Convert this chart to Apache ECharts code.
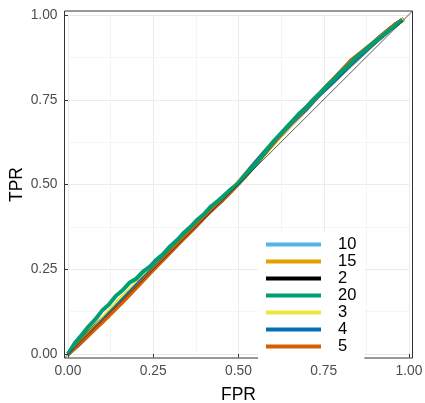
<!DOCTYPE html>
<html>
<head>
<meta charset="utf-8">
<script src="https://cdn.jsdelivr.net/npm/echarts@6/dist/echarts.min.js"></script>
<style>html,body{margin:0;padding:0;background:#fff}#c{width:425px;height:403px}</style>
</head>
<body>
<div id="c"></div>
<script>
// ---- data ----
const legendNames = ['10', '15', '2', '20', '3', '4', '5'];
const axisTicks = [0, 0.25, 0.5, 0.75, 1];
const tickLabels = ['0.00', '0.25', '0.50', '0.75', '1.00'];

const fpr10 = [0,0.04,0.08,0.12,0.16,0.2,0.24,0.28,0.32,0.36,0.4,0.44,0.48,0.52,0.56,0.6,0.64,0.68,0.72,0.76,0.8,0.84,0.88,0.92,0.96,0.985];
const tpr10 = [0,0.042,0.083,0.121,0.166,0.204,0.246,0.284,0.327,0.364,0.408,0.446,0.485,0.53,0.575,0.622,0.664,0.707,0.748,0.789,0.83,0.866,0.905,0.94,0.972,0.988];

const fpr15 = [0,0.03,0.07,0.11,0.15,0.19,0.23,0.27,0.31,0.35,0.39,0.43,0.47,0.51,0.55,0.59,0.63,0.67,0.71,0.75,0.79,0.83,0.87,0.91,0.95,0.98];
const tpr15 = [0,0.031,0.074,0.113,0.158,0.196,0.238,0.277,0.318,0.357,0.398,0.437,0.476,0.518,0.566,0.612,0.653,0.698,0.738,0.777,0.815,0.853,0.893,0.93,0.965,0.985];

const fpr2 = [0,0.05,0.09,0.13,0.17,0.21,0.25,0.29,0.33,0.37,0.41,0.45,0.49,0.53,0.57,0.61,0.65,0.69,0.73,0.77,0.81,0.85,0.89,0.93,0.96,0.985];
const tpr2 = [0,0.051,0.09,0.132,0.171,0.211,0.252,0.292,0.333,0.372,0.414,0.452,0.494,0.537,0.585,0.63,0.672,0.713,0.757,0.796,0.835,0.872,0.91,0.945,0.972,0.988];

const fpr20 = [0,0.02,0.04,0.06,0.08,0.1,0.12,0.14,0.16,0.18,0.2,0.22,0.24,0.26,0.28,0.3,0.32,0.34,0.36,0.38,0.4,0.42,0.44,0.46,0.48,0.5,0.52,0.54,0.56,0.58,0.6,0.62,0.64,0.66,0.68,0.7,0.72,0.74,0.76,0.78,0.8,0.82,0.84,0.86,0.88,0.9,0.92,0.94,0.96,0.98];
const tpr20 = [0,0.032,0.056,0.081,0.102,0.128,0.146,0.171,0.188,0.21,0.222,0.243,0.258,0.279,0.296,0.318,0.336,0.358,0.376,0.397,0.414,0.436,0.452,0.47,0.488,0.503,0.527,0.549,0.572,0.598,0.624,0.646,0.668,0.689,0.711,0.729,0.751,0.77,0.792,0.81,0.832,0.849,0.871,0.888,0.904,0.921,0.937,0.953,0.968,0.985];

const fpr3 = [0,0.04,0.08,0.12,0.16,0.2,0.24,0.28,0.32,0.36,0.4,0.44,0.48,0.52,0.56,0.6,0.64,0.68,0.72,0.76,0.8,0.84,0.88,0.92,0.96,0.985];
const tpr3 = [0,0.038,0.079,0.126,0.169,0.208,0.247,0.29,0.33,0.371,0.41,0.448,0.487,0.527,0.57,0.617,0.662,0.703,0.746,0.787,0.825,0.863,0.902,0.938,0.97,0.988];

const fpr4 = [0,0.03,0.06,0.1,0.14,0.18,0.22,0.26,0.3,0.34,0.38,0.42,0.46,0.5,0.54,0.58,0.62,0.66,0.7,0.74,0.78,0.82,0.86,0.9,0.94,0.98];
const tpr4 = [0,0.026,0.056,0.098,0.139,0.181,0.222,0.262,0.303,0.344,0.385,0.424,0.465,0.504,0.553,0.6,0.643,0.686,0.725,0.767,0.805,0.845,0.883,0.92,0.956,0.985];

const fpr5 = [0,0.04,0.08,0.12,0.16,0.2,0.24,0.28,0.32,0.36,0.4,0.44,0.48,0.52,0.56,0.6,0.64,0.68,0.72,0.76,0.8,0.83,0.86,0.89,0.92,0.95,0.98];
const tpr5 = [0,0.036,0.074,0.113,0.153,0.195,0.238,0.279,0.321,0.362,0.404,0.443,0.481,0.524,0.571,0.619,0.666,0.708,0.75,0.792,0.834,0.866,0.89,0.914,0.94,0.964,0.986];

const colors = {'10':'#56B4E9','15':'#E69F00','2':'#000000','20':'#009E73','3':'#F0E442','4':'#0072B2','5':'#D55E00'};
const curves = {'10':[fpr10,tpr10],'15':[fpr15,tpr15],'2':[fpr2,tpr2],'20':[fpr20,tpr20],'3':[fpr3,tpr3],'4':[fpr4,tpr4],'5':[fpr5,tpr5]};
const drawOrder = ['10','15','2','3','4','5','20'];

// ---- layout ----
const FONT = 'Liberation Sans, Arial, sans-serif';
const inner = {left: 68, top: 15, width: 341, height: 339};
const padX = 3.5, padY = 4;
const outer = {left: inner.left - padX, top: inner.top - padY, width: inner.width + 2*padX, height: inner.height + 2*padY};
const xMin = -padX / inner.width, xMax = 1 + padX / inner.width;
const yMin = -padY / inner.height, yMax = 1 + padY / inner.height;

const pairs = (xs, ys) => xs.map((x, i) => [x, ys[i]]);

const series = drawOrder.map(name => ({
  name: name, type: 'line', xAxisIndex: 1, yAxisIndex: 1,
  data: pairs(curves[name][0], curves[name][1]),
  showSymbol: false, symbol: 'none',
  lineStyle: {color: colors[name], width: 4},
  itemStyle: {color: colors[name]},
  z: 3, animation: false
}));
series.push({
  name: 'diag', type: 'line', xAxisIndex: 1, yAxisIndex: 1,
  data: [[xMin, yMin], [xMax, yMax]], showSymbol: false, symbol: 'none',
  lineStyle: {color: '#333333', width: 0.8}, z: 4, animation: false, silent: true
});

const labelFmt = v => {
  const i = axisTicks.findIndex(t => Math.abs(t - v) < 1e-9);
  return i >= 0 ? tickLabels[i] : '';
};

const option = {
  backgroundColor: '#ffffff',
  animation: false,
  textStyle: {fontFamily: FONT},
  grid: [
    Object.assign({show: false, outerBoundsMode: 'none'}, inner),
    Object.assign({show: true, outerBoundsMode: 'none', borderColor: '#333333', borderWidth: 1, backgroundColor: 'transparent', z: 5}, outer)
  ],
  xAxis: [
    {
      type: 'value', gridIndex: 0, min: 0, max: 1, interval: 0.25,
      offset: padY,
      axisLine: {show: false},
      axisTick: {show: true, length: 3.5, lineStyle: {color: '#333333', width: 1}},
      axisLabel: {formatter: labelFmt, color: '#4D4D4D', fontSize: 13.8, margin: 6, fontFamily: FONT},
      splitLine: {show: true, lineStyle: {color: '#EBEBEB', width: 1}},
      minorTick: {show: false, splitNumber: 2},
      minorSplitLine: {show: true, lineStyle: {color: '#EEEEEE', width: 0.6}},
      name: 'FPR', nameLocation: 'middle', nameGap: 28, nameMoveOverlap: false,
      nameTextStyle: {color: '#000000', fontSize: 17.5, fontFamily: FONT}
    },
    {
      type: 'value', gridIndex: 1, min: xMin, max: xMax,
      axisLine: {show: false}, axisTick: {show: false}, axisLabel: {show: false}, splitLine: {show: false}
    }
  ],
  yAxis: [
    {
      type: 'value', gridIndex: 0, min: 0, max: 1, interval: 0.25,
      offset: padX,
      axisLine: {show: false},
      axisTick: {show: true, length: 3.5, lineStyle: {color: '#333333', width: 1}},
      axisLabel: {formatter: labelFmt, color: '#4D4D4D', fontSize: 13.8, margin: 7, fontFamily: FONT},
      splitLine: {show: true, lineStyle: {color: '#EBEBEB', width: 1}},
      minorTick: {show: false, splitNumber: 2},
      minorSplitLine: {show: true, lineStyle: {color: '#EEEEEE', width: 0.6}},
      name: 'TPR', nameLocation: 'middle', nameGap: 38, nameRotate: 90, nameMoveOverlap: false,
      nameTextStyle: {color: '#000000', fontSize: 17.5, fontFamily: FONT}
    },
    {
      type: 'value', gridIndex: 1, min: yMin, max: yMax,
      axisLine: {show: false}, axisTick: {show: false}, axisLabel: {show: false}, splitLine: {show: false}
    }
  ],
  legend: {
    data: legendNames,
    orient: 'vertical', left: 258, top: 232,
    backgroundColor: '#ffffff', padding: [4, 8, 4, 8],
    itemWidth: 55, itemHeight: 4, itemGap: 0,
    icon: 'rect',
    textStyle: {color: '#000000', fontSize: 16.5, lineHeight: 17, padding: [0, 0, 0, 12], fontFamily: FONT},
    selectedMode: false, z: 6
  },
  series: series
};

const chart = echarts.init(document.getElementById('c'), null, {renderer: 'canvas'});
chart.setOption(option);
</script>
</body>
</html>
